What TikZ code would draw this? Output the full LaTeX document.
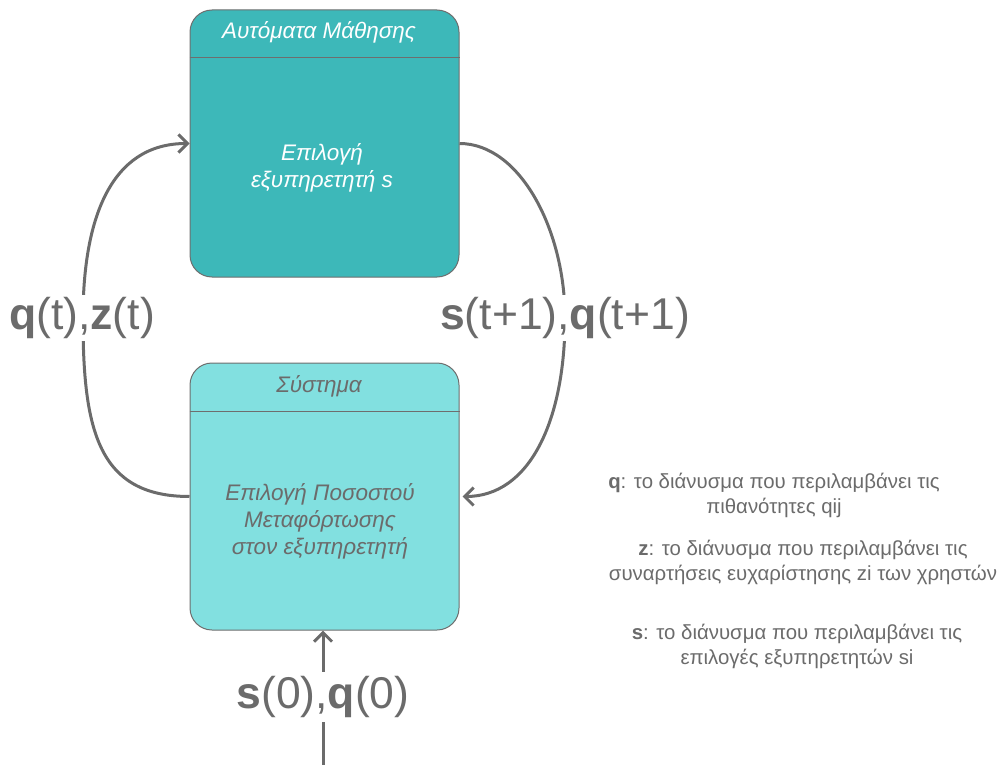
\documentclass[tikz,border=0pt]{standalone}
\usepackage{fontspec}
\setmainfont{Liberation Sans}
\usetikzlibrary{arrows.meta}
\definecolor{topfill}{HTML}{3DB8B9}
\definecolor{botfill}{HTML}{82E0E0}
\definecolor{edgegray}{HTML}{6E6E6E}
\definecolor{txtgray}{HTML}{6B6B6B}
\tikzset{
  statebox/.style={draw=edgegray, line width=1pt, rounded corners=22pt, minimum width=269pt, minimum height=267pt, inner sep=0pt},
  conn/.style={draw=txtgray, line width=3pt, -{Straight Barb[length=9pt,width=18pt,line width=3pt]}},
  biglabel/.style={fill=white, text=txtgray, inner sep=2pt, font=\fontsize{44.5}{50}\selectfont},
  legend/.style={text=txtgray, align=center, font=\fontsize{20.4}{25}\selectfont},
  boxtitle/.style={font=\fontsize{22.5}{26}\selectfont\itshape},
  boxbody/.style={align=center, font=\fontsize{22.5}{27}\selectfont\itshape}
}
\begin{document}
\begin{tikzpicture}[x=1pt,y=-1pt]
\useasboundingbox (0,0) rectangle (1001,765);
% boxes
\node[statebox, fill=topfill] (auto) at (324.5,143.5) {};
\node[statebox, fill=botfill] (sys) at (324.5,496.5) {};
\draw[edgegray, line width=1pt] ([yshift=-48pt]auto.north west) -- ([yshift=-48pt]auto.north east);
\draw[edgegray, line width=1pt] ([yshift=-49pt]sys.north west) -- ([yshift=-49pt]sys.north east);
\node[boxtitle, text=white] (autot) at (319,32) {Αυτόματα Μάθησης};
\node[boxbody, text=white] (autob) at (322,168) {Επιλογή\\ εξυπηρετητή s};
\node[boxtitle, text=txtgray] (syst) at (319,386) {Σύστημα};
\node[boxbody, text=txtgray] (sysb) at (320,521) {Επιλογή Ποσοστού\\ Μεταφόρτωσης\\ στον εξυπηρετητή};
% curved connectors
\draw[conn] (sys.west) .. controls (98,496.5) and (83,430) .. (83,318)
  .. controls (83,220) and (110,143.5) .. (auto.west);
\draw[conn] (auto.east) .. controls (520,143.5) and (565,230) .. (565,318)
  .. controls (565,420) and (530,496.5) .. ([xshift=3pt]sys.east);
\node[biglabel] (lq) at (82,318) {\textbf{q}(t),\textbf{z}(t)};
\node[biglabel] (ls) at (565,318) {\textbf{s}(t+1),\textbf{q}(t+1)};
% initial input
\coordinate (start) at (323,765);
\draw[conn] (start) -- (sys.south -| start);
\node[biglabel, inner xsep=0pt, inner ysep=4pt] (l0) at (323,697) {\textbf{s}(0),\textbf{q}(0)};
% legend
\node[legend] (legq) at (774,495.5) {\textbf{q}: το διάνυσμα που περιλαμβάνει τις\\ πιθανότητες qij};
\node[legend] (legz) at (803,562.5) {\textbf{z}: το διάνυσμα που περιλαμβάνει τις\\ συναρτήσεις ευχαρίστησης zi των χρηστών};
\node[legend] (legs) at (797,646) {\textbf{s}: το διάνυσμα που περιλαμβάνει τις\\ επιλογές εξυπηρετητών si};
\end{tikzpicture}
\end{document}
